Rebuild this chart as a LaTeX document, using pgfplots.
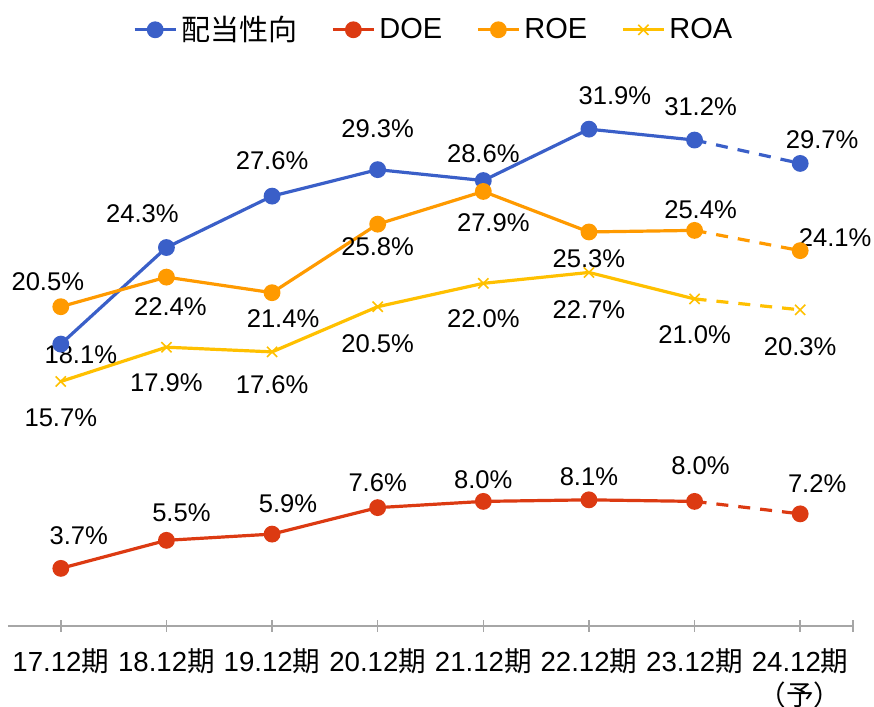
\documentclass[border=0pt]{standalone}
\usepackage{fontspec}
\setmainfont{Liberation Sans}
\newfontfamily\cjk{Noto Sans CJK JP}
\usepackage{pgfplots}
\pgfplotsset{compat=1.18}
\definecolor{cBlue}{HTML}{3A5FC8}
\definecolor{cRed}{HTML}{DC3A12}
\definecolor{cOrange}{HTML}{FF9A00}
\definecolor{cYellow}{HTML}{FFC000}
\definecolor{cAxis}{HTML}{A6A6A6}
\newcommand{\lab}[5]{\node[font=\fontsize{12.8}{14}\selectfont, inner sep=0pt, shift={(#3*0.5pt,#4*0.5pt)}] at (axis cs:#1,#2) {#5};}
\begin{document}
\begin{tikzpicture}
\begin{axis}[
  name=ax,
  at={(0,0)}, anchor=south west,
  scale only axis,
  width=422.5pt, height=311.5pt,
  xmin=-0.5, xmax=7.5, ymin=0, ymax=40,
  axis y line=none,
  axis x line*=bottom,
  x axis line style={cAxis, line width=0.8pt, -},
  xtick={0,1,2,3,4,5,6,7,7.5},
  xticklabels={17.12{\cjk 期},18.12{\cjk 期},19.12{\cjk 期},20.12{\cjk 期},21.12{\cjk 期},22.12{\cjk 期},23.12{\cjk 期},{24.12{\cjk 期}\\{\cjk （予）}},},
  xticklabel style={font=\fontsize{13.8}{17}\selectfont, align=center, anchor=north, yshift=-5pt},
  major tick length=6pt,
  tick align=center,
  xtick style={cAxis, line width=0.8pt},
  clip=false,
  legend style={at={(0.505,0.957)}, anchor=center, draw=none, fill=none,
    legend columns=-1, font=\fontsize{14.5}{16}\selectfont,
    /tikz/every even column/.append style={column sep=15pt}},
  legend image code/.code={
    \draw[mark repeat=2,mark phase=2] plot coordinates {(0cm,0cm) (0.36cm,0cm) (0.72cm,0cm)};
  },
]
% 配当性向
\addplot[cBlue, line width=1.6pt, mark=*, mark size=3.4pt, mark options={solid, fill=cBlue, draw=cBlue}]
  coordinates {(0,18.1) (1,24.3) (2,27.6) (3,29.3) (4,28.6) (5,31.9) (6,31.2)};
\addlegendentry{{\cjk 配当性向}}
% DOE
\addplot[cRed, line width=1.6pt, mark=*, mark size=3.4pt, mark options={solid, fill=cRed, draw=cRed}]
  coordinates {(0,3.7) (1,5.5) (2,5.9) (3,7.6) (4,8.0) (5,8.1) (6,8.0)};
\addlegendentry{DOE}
% ROE
\addplot[cOrange, line width=1.6pt, mark=*, mark size=3.4pt, mark options={solid, fill=cOrange, draw=cOrange}]
  coordinates {(0,20.5) (1,22.4) (2,21.4) (3,25.8) (4,27.9) (5,25.3) (6,25.4)};
\addlegendentry{ROE}
% ROA
\addplot[cYellow, line width=1.6pt, mark=x, mark size=3.6pt, mark options={solid, draw=cYellow, line width=0.8pt}]
  coordinates {(0,15.7) (1,17.9) (2,17.6) (3,20.5) (4,22.0) (5,22.7) (6,21.0)};
\addlegendentry{ROA}
% dashed forecast segments
\addplot[forget plot, cBlue, line width=1.6pt, dash pattern=on 6pt off 5pt, mark=*, mark size=3.4pt, mark indices={2}, mark options={solid, fill=cBlue, draw=cBlue}]
  coordinates {(6,31.2) (7,29.7)};
\addplot[forget plot, cRed, line width=1.6pt, dash pattern=on 6pt off 5pt, mark=*, mark size=3.4pt, mark indices={2}, mark options={solid, fill=cRed, draw=cRed}]
  coordinates {(6,8.0) (7,7.2)};
\addplot[forget plot, cOrange, line width=1.6pt, dash pattern=on 6pt off 5pt, mark=*, mark size=3.4pt, mark indices={2}, mark options={solid, fill=cOrange, draw=cOrange}]
  coordinates {(6,25.4) (7,24.1)};
\addplot[forget plot, cYellow, line width=1.6pt, dash pattern=on 6pt off 5pt, mark=x, mark size=3.6pt, mark indices={2}, mark options={solid, draw=cYellow, line width=0.8pt}]
  coordinates {(6,21.0) (7,20.3)};
% labels: blue
\lab{0}{18.1}{20}{-11}{18.1\%}
\lab{1}{24.3}{-24}{34}{24.3\%}
\lab{2}{27.6}{0}{35}{27.6\%}
\lab{3}{29.3}{0}{41}{29.3\%}
\lab{4}{28.6}{0}{27}{28.6\%}
\lab{5}{31.9}{26}{33}{31.9\%}
\lab{6}{31.2}{6}{33}{31.2\%}
\lab{7}{29.7}{22}{24}{29.7\%}
% orange
\lab{0}{20.5}{-13}{25}{20.5\%}
\lab{1}{22.4}{4}{-30}{22.4\%}
\lab{2}{21.4}{11}{-26}{21.4\%}
\lab{3}{25.8}{0}{-23}{25.8\%}
\lab{4}{27.9}{10}{-31}{27.9\%}
\lab{5}{25.3}{0}{-27}{25.3\%}
\lab{6}{25.4}{6}{21}{25.4\%}
\lab{7}{24.1}{35}{13}{24.1\%}
% yellow
\lab{0}{15.7}{0}{-36}{15.7\%}
\lab{1}{17.9}{0}{-35}{17.9\%}
\lab{2}{17.6}{0}{-33}{17.6\%}
\lab{3}{20.5}{0}{-37}{20.5\%}
\lab{4}{22.0}{0}{-35}{22.0\%}
\lab{5}{22.7}{0}{-37}{22.7\%}
\lab{6}{21.0}{0}{-36}{21.0\%}
\lab{7}{20.3}{0}{-37}{20.3\%}
% red
\lab{0}{3.7}{18}{33}{3.7\%}
\lab{1}{5.5}{15}{28}{5.5\%}
\lab{2}{5.9}{16}{30}{5.9\%}
\lab{3}{7.6}{0}{25}{7.6\%}
\lab{4}{8.0}{0}{22}{8.0\%}
\lab{5}{8.1}{0}{23}{8.1\%}
\lab{6}{8.0}{6}{36}{8.0\%}
\lab{7}{7.2}{17}{30}{7.2\%}
\end{axis}
\pgfresetboundingbox
\path (ax.south west) ++(-4pt,-40.5pt) rectangle ++(437pt,353.5pt);
\end{tikzpicture}
\end{document}
